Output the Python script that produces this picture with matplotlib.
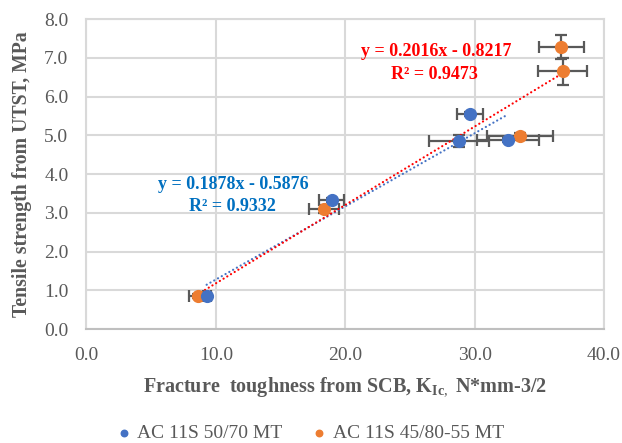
import numpy as np
import matplotlib
matplotlib.use("Agg")
import matplotlib.pyplot as plt

# AC 11S 50/70 MT
kic_a = [9.29, 18.97, 28.79, 29.64, 32.60]
utst_a = [0.86, 3.33, 4.86, 5.54, 4.88]
kic_a_err = [0.30, 0.97, 2.30, 1.00, 2.38]
utst_a_err = [0.03, 0.05, 0.15, 0.05, 0.05]

# AC 11S 45/80-55 MT
kic_b = [8.59, 18.35, 33.50, 36.69, 36.80]
utst_b = [0.86, 3.09, 4.99, 7.29, 6.65]
kic_b_err = [0.67, 1.15, 2.57, 1.73, 1.90]
utst_b_err = [0.05, 0.10, 0.08, 0.31, 0.35]

labels = ["AC 11S 50/70 MT", "AC 11S 45/80-55 MT"]
eq_a = ["y = 0.1878x - 0.5876", "R² = 0.9332"]
eq_b = ["y = 0.2016x - 0.8217", "R² = 0.9473"]

blue = "#4472C4"
orange = "#ED7D31"
grey = "#595959"

plt.rcParams['font.family'] = ['Liberation Serif', 'DejaVu Serif']
plt.rcParams['mathtext.fontset'] = 'custom'
plt.rcParams['mathtext.rm'] = 'Liberation Serif'
plt.rcParams['mathtext.bf'] = 'Liberation Serif:bold'

fig = plt.figure(figsize=(6.22, 4.43), dpi=100)
ax = fig.add_axes([0.139, 0.257, 0.832, 0.700])

# trendlines
for x, y, c in [(kic_a, utst_a, blue), (kic_b, utst_b, "#FF0000")]:
    coef = np.polyfit(x, y, 1)
    xx = np.array([min(x), max(x)])
    ax.plot(xx, np.polyval(coef, xx), color=c, lw=1.6, ls=(0, (0.05, 1.9)),
            dash_capstyle='round', zorder=3)

ax.errorbar(kic_b, utst_b, xerr=kic_b_err, yerr=utst_b_err, fmt='none',
            ecolor=grey, elinewidth=1.6, capsize=4, capthick=1.6, zorder=2)
ax.errorbar(kic_a, utst_a, xerr=kic_a_err, yerr=utst_a_err, fmt='none',
            ecolor=grey, elinewidth=1.6, capsize=4, capthick=1.6, zorder=2)
ax.scatter(kic_b, utst_b, s=72, color=orange, zorder=4, label=labels[1])
ax.scatter(kic_a, utst_a, s=72, color=blue, zorder=5, label=labels[0])

ax.text(11.35, 3.72, eq_a[0], color="#0070C0", fontsize=13, fontweight='bold',
        ha='center', va='center')
ax.text(11.3, 3.16, eq_a[1], color="#0070C0", fontsize=13, fontweight='bold',
        ha='center', va='center')
ax.text(27.05, 7.17, eq_b[0], color="#FF0000", fontsize=13, fontweight='bold',
        ha='center', va='center')
ax.text(26.9, 6.56, eq_b[1], color="#FF0000", fontsize=13, fontweight='bold',
        ha='center', va='center')

ax.set_xlim(0, 40)
ax.set_ylim(0, 8)
ax.set_xticks(np.arange(0, 41, 10))
ax.set_yticks(np.arange(0, 8.1, 1))
ax.xaxis.set_major_formatter(matplotlib.ticker.FormatStrFormatter('%.1f'))
ax.yaxis.set_major_formatter(matplotlib.ticker.FormatStrFormatter('%.1f'))
ax.tick_params(length=0, labelsize=14, labelcolor=grey, pad=13)
ax.grid(color="#D9D9D9", lw=1.5)
ax.set_axisbelow(True)
for s in ax.spines.values():
    s.set_color("#D9D9D9")
    s.set_linewidth(1.5)
ax.spines['bottom'].set_color("#BFBFBF")

ax.set_xlabel(r"Fracture  toughness from SCB, K$_{\mathbf{Ic},}$ N*mm-3/2",
              fontsize=14.5, fontweight='bold', color=grey)
ax.set_ylabel("Tensile strength from UTST, MPa", fontsize=14.2,
              fontweight='bold', color=grey)
ax.xaxis.set_label_coords(0.5, -0.152)
ax.yaxis.set_label_coords(-0.105, 0.5)

handles, labs = ax.get_legend_handles_labels()
fig.legend(handles[::-1], labs[::-1], loc='center', bbox_to_anchor=(0.5, 0.023),
           ncol=2, frameon=False, fontsize=14, labelcolor=grey,
           markerscale=0.55, handlelength=0.6, handletextpad=0.4,
           columnspacing=1.6)

fig.savefig("out.png", dpi=100)
